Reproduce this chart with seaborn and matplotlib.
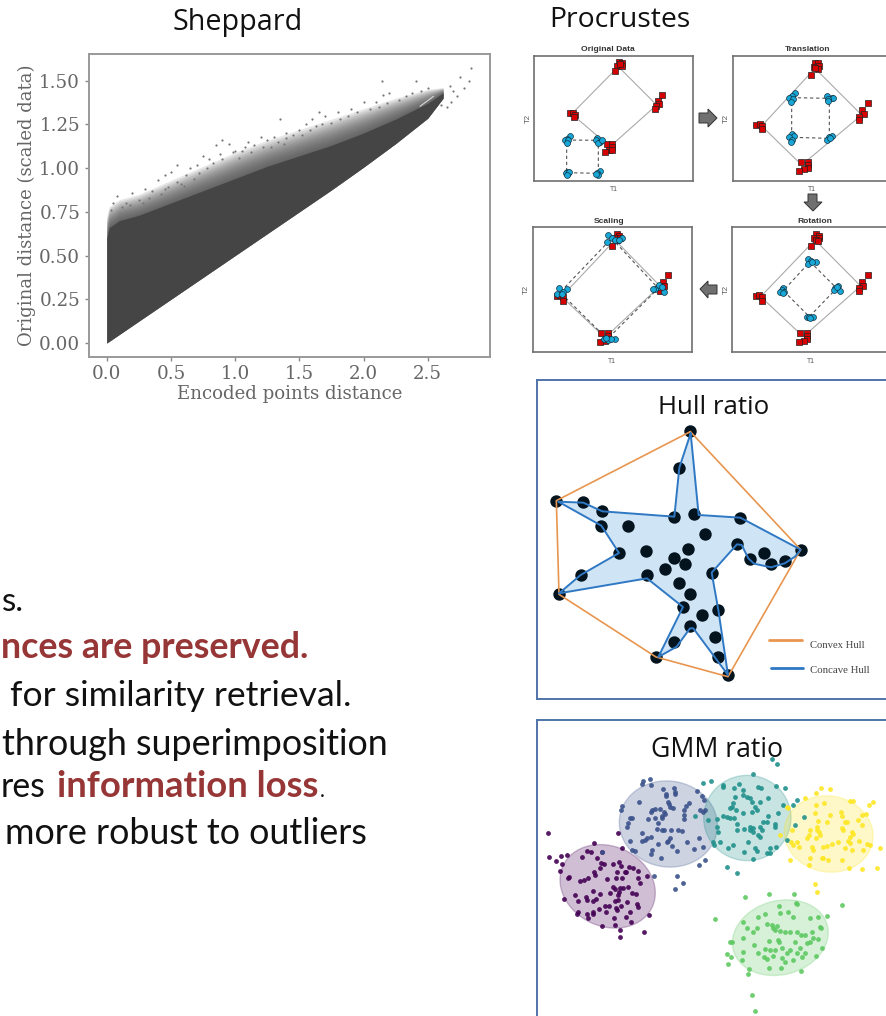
import matplotlib
matplotlib.use("Agg")
import matplotlib.pyplot as plt
from matplotlib.patches import Ellipse, Polygon
import numpy as np
import seaborn as sns

# ---------- Sheppard data ----------
band_x = [0.0, 0.0, 0.02, 0.1, 0.25, 0.5, 0.75, 1.0, 1.25, 1.5, 1.75, 2.0, 2.25, 2.5, 2.62]
band_top = [0.0, 0.60, 0.66, 0.70, 0.73, 0.80, 0.87, 0.94, 1.01, 1.07, 1.13, 1.20, 1.28, 1.37, 1.43]
band_low = [0.0, 0.0, 0.01, 0.05, 0.125, 0.25, 0.375, 0.50, 0.625, 0.75, 0.875, 1.005, 1.14, 1.285, 1.40]
fuzz_out = [0.0, 0.72, 0.78, 0.82, 0.85, 0.93, 1.01, 1.09, 1.16, 1.22, 1.28, 1.34, 1.40, 1.45, 1.46]
gap_x = [2.44, 2.545]
gap_y = [1.353, 1.41]
stray_x = [0.05, 0.08, 0.15, 0.2, 0.25, 0.3, 0.35, 0.4, 0.45, 0.45, 0.5, 0.55, 0.55, 0.6, 0.65, 0.7, 0.75, 0.8,
           0.85, 0.9, 0.95, 0.9, 1.0, 1.05, 1.1, 1.2, 1.25, 1.3, 1.4, 1.35, 1.4, 1.5, 1.55, 1.6, 1.65, 1.7, 1.8,
           1.9, 2.0, 2.1, 2.15, 2.2, 2.14, 2.41, 2.84, 2.82, 2.75, 2.67, 2.73, 2.65, 2.7, 2.78, 2.6, 2.68,
           0.03, 0.12, 0.18, 0.28, 0.33, 0.42, 0.48, 0.58, 0.62, 0.68, 0.72, 0.78, 0.83, 0.88, 0.98, 1.03, 1.08, 1.12,
           1.15, 1.22, 1.28, 1.33, 1.38, 1.45, 1.52, 1.58, 1.63, 1.68, 1.75, 1.82, 1.88, 1.95, 2.05, 2.12, 2.18, 2.28,
           2.33, 2.38, 2.45, 2.5]
stray_y = [0.80, 0.84, 0.80, 0.86, 0.82, 0.88, 0.87, 0.93, 0.96, 0.88, 0.98, 0.92, 1.02, 0.90, 1.00, 1.02, 1.07, 1.05,
           1.13, 1.16, 1.14, 1.05, 1.10, 1.10, 1.15, 1.18, 1.16, 1.18, 1.17, 1.28, 1.20, 1.22, 1.25, 1.28, 1.32, 1.30, 1.32,
           1.34, 1.38, 1.38, 1.42, 1.43, 1.50, 1.50, 1.57, 1.50, 1.52, 1.47, 1.41, 1.35, 1.44, 1.46, 1.36, 1.38,
           0.76, 0.78, 0.79, 0.80, 0.83, 0.85, 0.89, 0.91, 0.96, 0.94, 0.97, 1.00, 1.03, 1.08, 1.09, 1.06, 1.12, 1.09,
           1.13, 1.12, 1.12, 1.15, 1.14, 1.19, 1.19, 1.22, 1.24, 1.25, 1.26, 1.28, 1.30, 1.32, 1.34, 1.35, 1.37, 1.39,
           1.41, 1.43, 1.44, 1.46]
sheppard_xticks = [0.0, 0.5, 1.0, 1.5, 2.0, 2.5]
sheppard_yticks = [0.00, 0.25, 0.50, 0.75, 1.00, 1.25, 1.50]

# ---------- Procrustes data ----------
orig_red = [(297,187),(305,188),(292,198),(306,199),(286,214),(300,192),(427,286),(414,303),(417,313),(407,318),(405,326),
            (149,339),(158,338),(164,345),(163,352),(260,432),(277,433),(277,442),(267,449),(255,456),(276,450)]
orig_blue = [(150,409),(140,416),(136,420),(143,420),(140,428),(232,414),(228,420),(240,425),(233,430),(245,421),
             (140,516),(143,520),(137,519),(146,515),(140,524),(240,514),(232,520),(235,525),(228,523)]
orig_solid = [(295,200),(410,315),(270,440),(155,342),(295,200)]
orig_dash = [(140,420),(235,421),(235,520),(140,518),(140,420)]

trans_red = [(885,190),(895,190),(882,200),(898,197),(895,207),(885,205),(874,224),(1044,310),(1027,331),(1031,343),(1018,350),
             (1018,359),(708,374),(719,371),(727,378),(727,388),(843,485),(863,485),(863,494),(863,504),(853,508),(838,513)]
trans_blue = [(825,280),(815,288),(807,293),(818,298),(812,305),(922,287),(935,293),(940,295),(925,298),(925,303),
              (817,403),(823,408),(808,412),(815,420),(812,425),(935,407),(928,412),(922,421),(930,415)]
trans_solid = [(885,205),(1025,345),(845,495),(725,378),(885,205)]
trans_dash = [(815,293),(928,295),(928,415),(815,412),(815,293)]

rot_red = [(889,147),(897,152),(881,158),(897,160),(889,166),(895,167),(874,183),(1043,269),(1026,290),(1029,302),(1017,309),
           (1017,318),(707,333),(718,330),(726,337),(726,347),(841,444),(862,444),(862,452),(862,463),(852,467),(837,472)]
rot_blue = [(865,223),(873,228),(888,230),(863,236),(875,232),(953,303),(945,310),(941,315),(960,318),(952,307),
            (790,310),(785,315),(793,320),(781,321),(790,325),(860,395),(868,397),(878,395),(870,398)]
rot_solid = [(885,165),(1022,303),(850,455),(722,335),(885,165)]
rot_dash = [(870,230),(950,310),(868,395),(790,317),(870,230)]

scale_red = [(290,148),(297,152),(285,158),(300,160),(290,166),(275,183),(445,269),(428,290),(431,302),(419,309),(419,318),
             (110,333),(120,330),(128,337),(128,347),(243,444),(264,444),(264,452),(264,463),(254,467),(239,472)]
scale_blue = [(264,151),(275,158),(307,160),(262,172),(285,165),(298,165),(413,305),(405,312),(418,300),(433,321),(425,305),(400,312),
              (116,309),(141,312),(110,327),(130,320),(127,328),(253,463),(265,465),(285,461),(272,463),(258,458)]
scale_solid = [(285,165),(420,303),(255,458),(125,335),(285,165)]
scale_dash = [(275,160),(415,310),(262,462),(120,322),(275,160)]

# ---------- Hull data ----------
hull_points = [(481,168),(448,278),(79,377),(160,380),(217,409),(214,452),(295,452),(433,425),(493,418),(631,428),(526,478),
               (621,508),(473,521),(349,527),(267,534),(431,548),(465,566),(404,581),(661,553),(703,533),(723,567),(764,557),
               (812,524),(545,593),(351,599),(152,600),(448,623),(87,658),(481,658),(459,696),(565,705),(515,720),(480,754),
               (556,787),(433,802),(565,845),(378,846),(594,900)]
concave = [(482,175),(506,420),(631,428),(812,524),(795,545),(764,565),(723,577),(672,566),(655,550),(635,510),(621,508),
           (545,593),(565,705),(594,900),(490,760),(480,760),(440,815),(385,846),(459,696),(351,610),(87,655),(152,600),
           (267,534),(214,452),(85,380),(160,383),(217,409),(433,425),(448,278),(482,175)]
convex = [(481,170),(812,524),(594,905),(378,846),(87,658),(79,377),(481,170)]

# ---------- GMM data ----------
gmm_purple = [(53,353),(264,353),(191,384),(56,427),(77,438),(92,422),(110,421),(95,447),(89,467),(155,427),(171,407),(183,410),
              (215,410),(275,399),(200,430),(212,445),(223,447),(268,440),(248,447),(272,452),(296,457),(309,460),(323,467),
              (113,488),(117,487),(151,497),(162,495),(175,490),(192,470),(195,480),(210,458),(232,493),(262,470),(285,470),
              (289,470),(257,490),(277,488),(325,488),(352,484),(330,505),(248,517),(254,522),(270,518),(280,519),(295,517),
              (268,530),(263,540),(240,533),(210,537),(190,527),(135,541),(168,545),(170,555),(103,552),(145,558),(190,557),
              (197,551),(255,558),(265,555),(305,535),(318,537),(292,560),(320,568),(325,575),(225,572),(238,573),(206,581),
              (258,578),(272,574),(260,585),(143,590),(140,596),(170,597),(188,590),(190,597),(228,590),(253,610),(289,605),
              (300,590),(175,610),(215,632),(255,631),(303,621),(358,600),(270,645),(342,650),(270,665)]
gmm_blue = [(340,198),(360,192),(335,207),(363,210),(398,222),(432,220),(435,230),(407,238),(407,243),(435,238),(327,260),(275,272),
            (272,285),(365,285),(415,260),(418,268),(420,275),(430,280),(362,290),(375,282),(390,282),(402,290),(405,296),(397,303),
            (395,310),(300,308),(307,308),(353,313),(375,310),(385,325),(295,325),(290,335),(380,342),(397,344),(403,344),(423,344),
            (445,344),(457,348),(337,353),(352,370),(346,375),(335,378),(300,377),(362,365),(420,370),(415,378),(410,380),(425,392),
            (385,387),(440,407),(365,405),(362,417),(393,430),(305,405),(315,407),(215,411),(462,285),(468,273),(478,265),(462,300),
            (462,312),(500,228),(515,243),(522,255),(510,285),(518,290),(525,285),(507,368),(470,380),(492,403),(520,395),(526,435),
            (507,450),(372,483),(442,483),(460,503),(434,523)]
gmm_teal = [(727,133),(741,147),(668,176),(520,205),(544,198),(580,210),(613,220),(628,208),(580,215),(737,212),(764,220),(685,217),
            (692,220),(640,225),(640,240),(650,247),(660,250),(615,247),(665,262),(610,265),(605,275),(675,275),(680,285),(600,280),
            (715,250),(690,260),(758,270),(790,270),(802,255),(640,295),(665,290),(617,285),(745,295),(715,303),(578,303),(590,305),
            (600,310),(612,310),(562,312),(533,315),(495,303),(622,328),(710,320),(700,322),(735,328),(795,330),(823,305),(660,335),
            (642,343),(620,345),(562,337),(660,345),(670,340),(690,335),(695,345),(565,350),(570,380),(685,360),(690,365),(670,350),
            (735,335),(550,380),(552,390),(610,390),(595,400),(655,380),(675,398),(680,408),(642,410),(710,415),(720,415),(720,400),
            (737,395),(670,432),(592,455),(620,475),(770,375)]
gmm_yellow = [(872,218),(900,221),(858,235),(825,250),(960,258),(968,258),(1030,262),(1017,270),(882,263),(857,270),(855,293),(770,275),
              (775,278),(997,300),(1008,298),(985,315),(932,292),(935,303),(900,300),(890,320),(945,320),(950,322),(995,330),(865,318),
              (862,335),(860,345),(840,345),(838,360),(787,345),(750,360),(830,370),(800,380),(783,382),(790,390),(808,395),(845,397),
              (878,395),(892,392),(905,388),(850,405),(965,352),(938,345),(935,338),(968,358),(960,365),(925,380),(960,385),(955,378),
              (988,378),(1010,388),(1020,390),(1050,398),(945,400),(965,405),(1000,405),(840,430),(875,430),(880,430),(893,435),(935,435),
              (838,450),(780,434),(957,460),(995,463),(1040,458),(855,508),(860,530),(868,350),(858,368),(870,360)]
gmm_green = [(646,545),(718,536),(793,538),(936,569),(556,613),(748,572),(798,565),(802,567),(705,598),(750,595),(890,603),(640,622),
             (683,607),(773,590),(790,607),(712,627),(725,630),(730,640),(735,645),(742,632),(750,647),(765,652),(780,650),(800,650),
             (840,610),(865,607),(870,635),(873,640),(650,640),(680,640),(670,650),(640,670),(812,660),(825,660),(845,650),(865,672),
             (850,670),(840,680),(830,683),(877,700),(600,680),(605,680),(673,690),(718,678),(748,680),(745,675),(795,680),(705,703),
             (720,705),(735,705),(755,698),(780,705),(810,700),(640,710),(685,715),(702,725),(712,733),(730,723),(755,730),(772,713),
             (800,715),(825,715),(815,725),(858,722),(592,718),(604,727),(593,747),(635,735),(657,762),(718,760),(752,760),(765,740),
             (790,735),(655,777),(813,767),(666,840),(674,887)]
# centre x, centre y, width, height, angle
gmm_ellipses = [(233,514,295,240,25),(415,327,295,258,8),(652,309,262,256,0),(896,357,268,228,10),(751,668,292,222,-15)]
gmm_colors = ['#440154', '#3b528b', '#21918c', '#5ec962', '#fde725']

# ---------- Text ----------
body_black = ["s.", "for similarity retrieval.", "through superimposition", "res", "more robust to outliers"]
body_red = ["nces are preserved.", "information loss"]

W, H = 886, 1016
sns.set_theme(style="white")
plt.rcParams['font.family'] = ['Lato', 'DejaVu Sans']
fig = plt.figure(figsize=(W / 100, H / 100), dpi=100)
renderer = fig.canvas.get_renderer()


def make_axes(x0, y0, x1, y1):
    return fig.add_axes([x0 / W, 1 - y1 / H, (x1 - x0) / W, (y1 - y0) / H])


def panel(x0, y0, x1, y1, ox, oy):
    ax = make_axes(x0, y0, x1, y1)
    ax.set_xlim((x0 - ox) * 3, (x1 - ox) * 3)
    ax.set_ylim((y1 - oy) * 3, (y0 - oy) * 3)
    ax.set_xticks([])
    ax.set_yticks([])
    ax.patch.set_alpha(0)
    return ax


def path(ax, pts, **kw):
    xs, ys = zip(*pts)
    sns.lineplot(x=list(xs), y=list(ys), sort=False, estimator=None, ax=ax, legend=False, **kw)


def dots(ax, pts, **kw):
    xs, ys = zip(*pts)
    sns.scatterplot(x=list(xs), y=list(ys), ax=ax, legend=False, **kw)


# ---------- Sheppard ----------
ax = make_axes(88.5, 54, 490, 357)
DARK = '#454545'
top_arr = np.array(band_top)
out_arr = np.array(fuzz_out)
for f in np.linspace(1, 0.05, 12):
    ax.fill_between(band_x, band_low, top_arr + f * (out_arr - top_arr), color=DARK, alpha=0.13, lw=0)
ax.fill_between(band_x, band_low, band_top, color=DARK, lw=0)
sns.lineplot(x=gap_x, y=gap_y, color='#d8d8d8', lw=0.8, ax=ax, legend=False)
sns.scatterplot(x=stray_x, y=stray_y, s=2.5, color='#777777', linewidth=0, ax=ax, legend=False)
ax.set_xlim(-0.142, 2.985)
ax.set_ylim(-0.08, 1.652)
ax.set_xticks(sheppard_xticks)
ax.set_yticks(sheppard_yticks)
ax.set_xticklabels([f"{v:.1f}" for v in sheppard_xticks], family='DejaVu Serif', fontsize=13.2, color='#666666')
ax.set_yticklabels([f"{v:.2f}" for v in sheppard_yticks], family='DejaVu Serif', fontsize=13.2, color='#666666')
ax.tick_params(length=3, width=1, color='#888888', pad=3, bottom=True, left=True)
ax.set_xlabel("Encoded points distance", family='DejaVu Serif', fontsize=13.1, color='#666666', labelpad=1)
ax.set_ylabel("Original distance (scaled data)", family='DejaVu Serif', fontsize=13.0, color='#666666', labelpad=2)
for s in ax.spines.values():
    s.set_color('#999999')
    s.set_linewidth(1.4)

# ---------- Procrustes ----------
procrustes = [
    ("Original Data", (534, 56, 693, 181), (520, 0), orig_red, orig_blue, orig_solid, orig_dash),
    ("Translation", (733, 56, 887, 181), (520, 0), trans_red, trans_blue, trans_solid, trans_dash),
    ("Scaling", (533, 227, 692, 352), (520, 185), scale_red, scale_blue, scale_solid, scale_dash),
    ("Rotation", (732, 227, 887, 352), (520, 185), rot_red, rot_blue, rot_solid, rot_dash),
]
for title, rect, off, red, blue, solid, dash in procrustes:
    a = panel(*rect, *off)
    path(a, solid, color='#aaaaaa', lw=0.8, zorder=2)
    path(a, dash, color='#555555', lw=0.8, ls=(0, (3, 2.5)), zorder=2)
    dots(a, red, marker='s', s=15, color='#d60000', edgecolor='#222222', linewidth=0.5, zorder=3)
    dots(a, blue, marker='o', s=18, color='#18a8d8', edgecolor='#123040', linewidth=0.5, zorder=4)
    for s in a.spines.values():
        s.set_color('#707070')
        s.set_linewidth(1.2)

# ---------- Hull ratio ----------
BORDER = '#4f74a8'
h = panel(537, 380, 890, 699, 530, 375)
cx, cy = zip(*concave)
h.fill(cx, cy, color='#cfe4f5', lw=0, zorder=1)
dots(h, hull_points, s=80, color='#04141f', linewidth=0, zorder=2)
path(h, convex, color='#e8964f', lw=1.2, zorder=3)
path(h, concave, color='#2f78c4', lw=1.4, zorder=4)
path(h, [(718, 796), (815, 796)], color='#e8964f', lw=2, zorder=3)
path(h, [(722, 879), (818, 879)], color='#2f78c4', lw=2, zorder=3)
h.set_xlim((537 - 530) * 3, (890 - 530) * 3)
h.set_ylim((699 - 375) * 3, (380 - 375) * 3)
for s in h.spines.values():
    s.set_color(BORDER)
    s.set_linewidth(1.4)

# ---------- GMM ratio ----------
g = panel(537, 720, 890, 1022, 530, 715)
groups = [gmm_purple, gmm_blue, gmm_teal, gmm_green, gmm_yellow]
ell_order = [0, 1, 2, 4, 3]
for (ex, ey, ew, eh, ang), idx in zip(gmm_ellipses, ell_order):
    g.add_patch(Ellipse((ex, ey), ew, eh, angle=ang, facecolor=gmm_colors[idx], edgecolor=gmm_colors[idx],
                        alpha=0.25, lw=1, zorder=1))
for pts, col in zip(groups, gmm_colors):
    dots(g, pts, s=12, color=col, linewidth=0, alpha=0.9, zorder=2)
g.set_xlim((537 - 530) * 3, (890 - 530) * 3)
g.set_ylim((1022 - 715) * 3, (720 - 715) * 3)
for s in g.spines.values():
    s.set_color(BORDER)
    s.set_linewidth(1.4)

# ---------- Overlay: titles, body text, arrows ----------
ov = make_axes(0, 0, W, H)
ov.set_xlim(0, W)
ov.set_ylim(H, 0)
ov.axis('off')
ov.patch.set_alpha(0)


def fit(x, y, s, width, family='Open Sans', size=20, **kw):
    t = ov.text(x, y, s, family=family, fontsize=size, **kw)
    ext = t.get_window_extent(renderer).width
    t.set_fontsize(size * width / ext)
    return t


fit(173, 30, "Sheppard", 129, color='#111111')
fit(549, 27, "Procrustes", 141, color='#111111')
fit(658, 414, "Hull ratio", 111, color='#111111')
fit(651, 757, "GMM ratio", 132, color='#111111')

for s, x, y, w in [("Original Data", 581, 51, 54), ("Translation", 785, 51, 46),
                   ("Scaling", 594, 223, 31), ("Rotation", 797, 223, 35)]:
    fit(x, y, s, w, family='Liberation Sans', size=6, fontweight='bold', color='#333333')
for x, y in [(614, 191), (812, 191), (612, 363), (811, 363)]:
    fit(x, y, "T1", 8, family='Liberation Sans', size=6, ha='center', color='#555555')
for x, y in [(528, 118), (726, 118), (526, 289), (726, 289)]:
    ov.text(x, y, "T2", family='Liberation Sans', fontsize=5.6, rotation=90, ha='center', va='center', color='#555555')

BLACK = '#111111'
RED = '#973636'
fit(2, 611, body_black[0], 22, family='Lato', color=BLACK)
fit(1, 658, body_red[0], 309, family='Lato', fontweight='bold', color=RED)
fit(10, 706, body_black[1], 342, family='Lato', color=BLACK)
fit(2, 755, body_black[2], 388, family='Lato', color=BLACK)
fit(1, 797, body_black[3], 45, family='Lato', color=BLACK)
fit(57, 797, body_red[1], 261, family='Lato', fontweight='bold', color=RED)
fit(320, 797, ".", 5, family='Lato', color=BLACK)
fit(5, 844, body_black[4], 363, family='Lato', color=BLACK)

fit(810, 648, "Convex Hull", 55, family='Liberation Serif', size=8, color='#444444')
fit(810, 673, "Concave Hull", 60, family='Liberation Serif', size=8, color='#444444')

AF = '#707070'
AE = '#333333'
for verts in ([(699, 113), (708, 113), (708, 109), (717, 118), (708, 127), (708, 123), (699, 123)],
              [(808, 194), (817, 194), (817, 202), (822, 202), (813, 211), (804, 202), (808, 202)],
              [(717, 285), (708, 285), (708, 281), (700, 289), (708, 298), (708, 294), (717, 294)]):
    ov.add_patch(Polygon(verts, closed=True, facecolor=AF, edgecolor=AE, lw=0.7))

fig.savefig("out.png", dpi=100, facecolor='white')
